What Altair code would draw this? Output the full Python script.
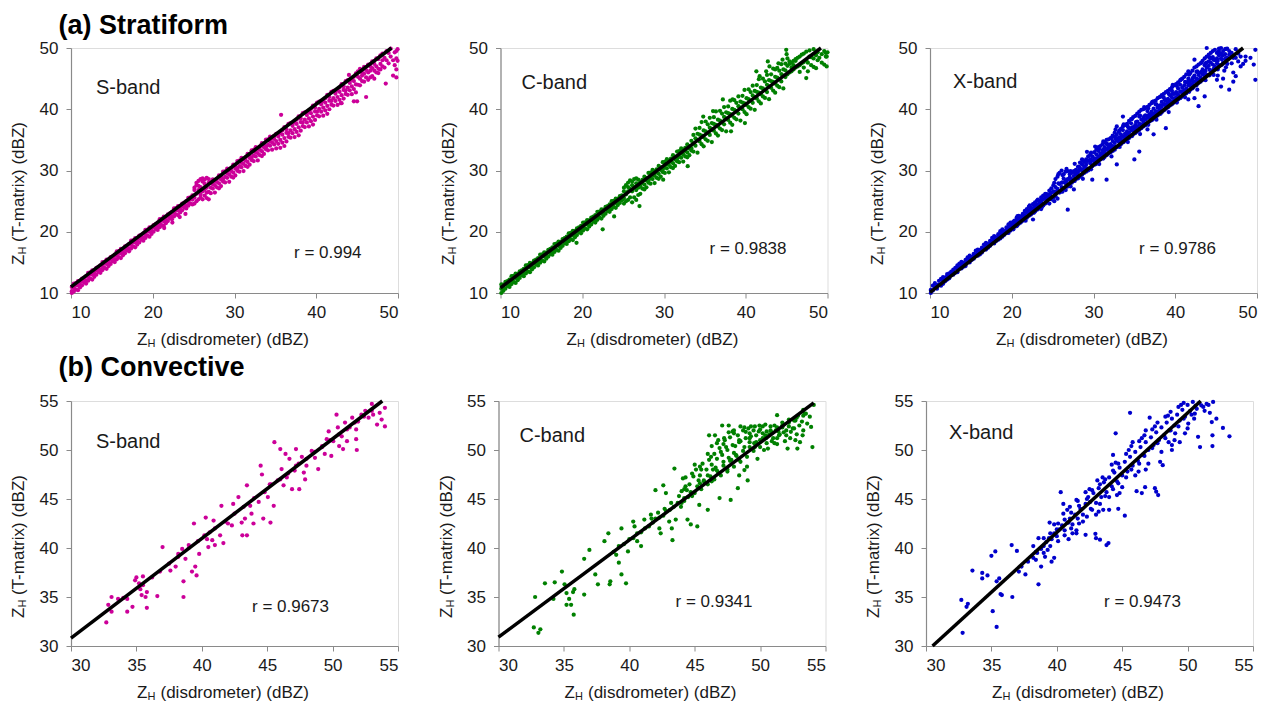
import altair as alt
import pandas as pd

FONT = "Liberation Sans"

# ---------------- data ----------------
# each entry: (disdrometer Z_H, [T-matrix Z_H values observed at that Z_H])
S_STRAT = [
(10.1,[11.0,10.3,10.0]),(10.35,[10.85,11.55,10.25]),(10.6,[10.6,11.3,11.6]),(10.85,[10.45,11.25,11.95]),(11.1,[11.4,11.9,10.9]),
(11.35,[12.35,11.25,11.95]),(11.6,[11.7,12.1,12.5]),(11.85,[12.75,12.05,11.55]),(12.1,[12.6,13.3,12.0]),(12.35,[12.35,13.05,13.35]),
(12.6,[12.2,13.0,13.7]),(12.85,[13.15,13.65,12.65]),(13.1,[14.1,13.0,13.7]),(13.35,[13.45,13.85,14.25]),(13.6,[14.5,13.8,13.3]),
(13.85,[14.35,15.05,13.75]),(14.1,[14.1,14.8,15.1]),(14.35,[13.95,14.75,15.45]),(14.6,[14.9,15.4,14.4]),(14.85,[15.85,14.75,15.45]),
(15.1,[15.2,15.6,16.0]),(15.35,[16.25,15.55,15.05]),(15.6,[16.1,16.8,15.5]),(15.85,[15.85,16.55,16.85]),(16.1,[15.7,16.5,17.2]),
(16.35,[16.65,17.15,16.15]),(16.6,[17.6,16.5,17.2]),(16.85,[16.95,17.35,17.75]),(17.1,[18.0,17.3,16.8]),(17.35,[17.85,18.55,17.25]),
(17.6,[17.6,18.3,18.6]),(17.85,[17.45,18.25,18.95]),(18.1,[18.4,18.9,17.9]),(18.35,[19.35,18.25,18.95]),(18.6,[18.7,19.1,19.5]),
(18.85,[19.75,19.05,18.55]),(19.1,[19.6,20.3,19.0]),(19.35,[19.35,20.05,20.35]),(19.6,[19.2,20.0,20.7]),(19.85,[20.15,20.65,19.65]),
(20.1,[21.1,20.0,20.7]),(20.35,[20.45,20.85,21.25]),(20.6,[21.5,20.8,20.3]),(20.85,[21.35,22.05,20.75]),(21.1,[21.1,21.8,22.1]),
(21.35,[20.95,21.75,22.45]),(21.4,[20.6]),(21.6,[21.9,22.4,21.4]),(21.85,[22.85,21.75,22.45]),(22.1,[22.2,22.6,23.0]),
(22.35,[23.25,22.55,22.05]),(22.4,[21.5]),(22.6,[23.1,23.8,22.5]),(22.85,[22.85,23.55,23.85]),(23.1,[22.7,23.5,24.2]),
(23.3,[22.4]),(23.35,[23.65,24.15,23.15]),(23.6,[24.6,23.5,24.2]),(23.85,[23.95,24.35,24.75]),(24.0,[22.9]),(24.1,[25.0,24.3,23.8]),
(24.35,[24.85,25.55,24.25]),(24.6,[24.6,25.3,25.6]),(24.85,[24.45,25.25,25.95]),
(25.1,[26.8,25.6,24.6,27.2]),(25.35,[27.6,26.2,25.0,28.0]),(25.6,[28.3,26.8,25.3,27.5]),(25.85,[28.6,27.3,25.6,26.1]),
(26.1,[28.2,26.6,28.7,25.3]),(26.35,[27.8,25.9,28.5,26.9]),(26.6,[28.8,27.2,25.5,26.4]),(26.85,[28.0,26.5,28.6,25.3]),
(27.1,[28.1,27.2,26.3]),(27.35,[27.75,27.05,28.55]),(27.6,[26.4,28.3,27.6]),(27.85,[28.65,27.25,28.15]),(28.1,[27.9,29.2,27.1]),
(28.35,[28.95,27.45,28.55]),(28.6,[29.8,28.6,28.2]),(28.85,[29.85,28.95,28.05]),(29.1,[29.5,28.8,30.3]),(29.35,[28.15,30.05,29.35]),
(29.6,[30.4,29.0,29.9]),(29.85,[29.65,30.95,28.85]),(30.1,[30.7,29.2,30.3]),(30.35,[31.55,30.35,29.95]),(30.6,[31.6,30.7,29.8]),
(30.85,[31.25,30.55,32.05]),(31.1,[29.9,31.8,31.1]),(31.35,[32.15,30.75,31.65]),(31.6,[31.4,32.7,30.6]),(31.85,[32.45,30.95,32.05]),
(32.1,[33.3,32.1,31.7]),(32.35,[33.35,32.45,31.55]),(32.6,[33.0,32.3,33.8]),(32.85,[31.65,33.55,32.85]),(33.1,[33.9,32.5,33.4]),
(33.35,[33.15,34.45,32.35]),(33.6,[34.2,32.7,33.8]),(33.85,[35.05,33.85,33.45]),(34.1,[35.1,34.2,33.3]),(34.35,[34.75,34.05,35.55]),
(34.6,[33.4,35.3,34.6]),(34.85,[35.65,34.25,35.15]),
(35.1,[36.0,34.8,33.6]),(35.35,[35.55,34.35,35.95]),(35.6,[33.7,36.1,35.0]),(35.7,[39.1]),(35.85,[36.55,34.55,35.85]),
(36.1,[35.3,37.1,34.0]),(36.35,[36.75,34.75,36.15]),(36.6,[37.6,36.1,35.5]),(36.85,[37.75,36.55,35.35]),(37.1,[37.3,36.1,37.7]),
(37.35,[35.45,37.85,36.75]),(37.6,[38.3,36.3,37.6]),(37.85,[37.05,38.85,35.75]),(38.1,[38.5,36.5,37.9]),(38.35,[39.35,37.85,37.25]),
(38.6,[39.5,38.3,37.1]),(38.85,[39.05,37.85,39.45]),(39.1,[37.2,39.6,38.5]),(39.35,[40.05,38.05,39.35]),(39.6,[38.8,40.6,37.5]),
(39.85,[40.25,38.25,39.65]),(40.1,[41.1,39.6,39.0]),(40.35,[41.25,40.05,38.85]),(40.6,[40.8,39.6,41.2]),(40.85,[38.95,41.35,40.25]),
(41.1,[41.8,39.8,41.1]),(41.35,[40.55,42.35,39.25]),(41.6,[42.0,40.0,41.4]),(41.85,[42.85,41.35,40.75]),(42.1,[43.0,41.8,40.6]),
(42.35,[42.55,41.35,42.95]),(42.6,[40.7,43.1,42.0]),(42.85,[43.55,41.55,42.85]),(43.0,[41.0]),(43.1,[42.3,44.1,41.0]),
(43.35,[43.75,41.75,43.15]),(43.6,[44.6,43.1,42.5]),(43.85,[44.75,43.55,42.35]),(44.0,[45.6]),(44.1,[44.3,43.1,44.7]),
(44.35,[42.45,44.85,43.75]),(44.6,[45.3,43.3,44.6,41.3]),(44.85,[44.05,45.85,42.75]),(45.0,[41.3]),
(45.1,[46.2,45.3,44.0]),(45.35,[46.6,45.0,43.9]),(45.6,[46.0,44.6,45.5]),(45.85,[46.9,45.8,44.5]),(46.1,[46.4,42.0,45.2]),
(46.35,[47.3,46.0,44.8]),(46.6,[47.0,45.2,46.3]),(46.85,[47.8,46.7,45.4]),(47.1,[47.4,46.3,45.0]),(47.35,[48.3,47.0,46.0]),
(47.6,[48.2,46.6,45.9]),(47.85,[48.8,47.4,46.5]),(48.1,[49.1,48.0,47.0]),(48.35,[48.4,46.8]),(48.5,[44.2]),(48.6,[49.5,48.0]),
(48.85,[49.2,47.5]),(49.1,[49.9,48.6]),(49.4,[48.0,45.5]),(49.6,[49.3,47.2]),(49.8,[49.5,46.5,45.2,48.3]),(49.95,[49.8,47.9]),
]

C_STRAT = [
(10.1,[10.0,10.7,11.4]),(10.35,[10.85,11.35,10.35]),(10.6,[11.8,10.7,11.4]),(10.85,[11.15,11.55,11.95]),(11.1,[12.2,11.5,11.0]),
(11.35,[12.05,12.75,11.45]),(11.6,[11.8,12.5,12.8]),(11.85,[11.65,12.45,13.15]),(12.1,[12.6,13.1,12.1]),(12.35,[13.55,12.45,13.15]),
(12.6,[12.9,13.3,13.7]),(12.85,[13.95,13.25,12.75]),(13.1,[13.8,14.5,13.2]),(13.35,[13.55,14.25,14.55]),(13.6,[13.4,14.2,14.9]),
(13.85,[14.35,14.85,13.85]),(14.1,[15.3,14.2,14.9]),(14.35,[14.65,15.05,15.45]),(14.6,[15.7,15.0,14.5]),(14.85,[15.55,16.25,14.95]),
(15.1,[15.3,16.0,16.3]),(15.35,[15.15,15.95,16.65]),(15.6,[16.1,16.6,15.6]),(15.85,[17.05,15.95,16.65]),(16.1,[16.4,16.8,17.2]),
(16.35,[17.45,16.75,16.25]),(16.6,[17.3,18.0,16.7]),(16.85,[17.05,17.75,18.05]),(17.1,[16.9,17.7,18.4]),(17.35,[17.85,18.35,17.35]),
(17.6,[18.8,17.7,18.4]),(17.85,[18.15,18.55,18.95]),(18.1,[19.2,18.5,18.0]),(18.35,[19.05,19.75,18.45]),(18.6,[18.8,19.5,19.8]),
(18.85,[18.65,19.45,20.15]),(19.1,[19.6,20.1,19.1]),(19.3,[18.2]),(19.35,[20.55,19.45,20.15]),(19.6,[19.9,20.3,20.7]),
(19.85,[20.95,20.25,19.75]),(20.1,[20.8,21.5,20.2]),(20.35,[20.55,21.25,21.55]),(20.6,[20.4,21.2,21.9]),(20.85,[21.35,21.85,20.85]),
(21.1,[22.3,21.2,21.9]),(21.35,[21.65,22.05,22.45]),(21.6,[22.7,22.0,21.5]),(21.85,[22.55,23.25,21.95]),(22.1,[22.3,23.0,23.3]),
(22.35,[22.15,22.95,23.65]),(22.5,[20.4]),(22.6,[23.1,23.6,22.6]),(22.85,[24.05,22.95,23.65]),(23.1,[23.4,23.8,24.2]),
(23.35,[24.45,23.75,23.25]),(23.6,[24.3,25.0,23.7]),(23.85,[24.05,24.75,25.05]),(23.9,[22.5]),(24.1,[23.9,24.7,25.4]),
(24.35,[24.85,25.35,24.35]),(24.6,[25.8,24.7,25.4]),(24.85,[25.15,25.55,25.95]),
(25.1,[26.6,25.5,27.2,24.6]),(25.35,[27.6,26.1,25.0]),(25.6,[28.0,26.6,25.2,27.3]),(25.85,[28.4,27.0,25.6]),
(26.1,[28.2,26.6,27.6,24.8]),(26.35,[28.6,27.3,25.6]),(26.6,[27.9,25.2,28.7,26.8]),(26.85,[28.5,27.2,26.0]),(27.0,[24.2]),
(27.1,[26.2,28.1,27.4]),(27.35,[28.45,27.05,27.95]),(27.6,[27.7,29.0,26.9]),(27.85,[28.75,27.25,28.35]),(28.1,[29.6,28.4,28.0]),
(28.35,[29.65,28.75,27.85]),(28.6,[29.3,28.6,30.1]),(28.85,[27.95,29.85,29.15]),(29.1,[30.2,28.8,29.7]),(29.35,[29.45,30.75,28.65]),
(29.6,[30.5,29.0,30.1]),(29.85,[31.35,30.15,29.75]),(29.9,[28.5]),(30.1,[31.4,30.5,29.6]),(30.35,[31.05,30.35,31.85]),
(30.6,[29.7,31.6,30.9]),(30.85,[31.95,30.55,31.45]),(31.1,[31.2,32.5,30.4]),(31.35,[32.25,30.75,31.85]),(31.6,[33.1,31.9,31.5]),
(31.85,[33.15,32.25,31.35]),(32.1,[32.8,32.1,33.6]),(32.35,[31.45,33.35,32.65]),(32.6,[33.7,32.3,33.2]),(32.85,[32.95,34.25,32.15]),
(32.9,[30.7]),(33.1,[34.0,32.5,33.6]),(33.35,[34.85,33.65,33.25]),
(33.6,[35.8,34.4,33.1]),(33.85,[35.25,36.85,34.05]),(34.1,[32.9,36.0,35.0]),(34.35,[36.95,34.75,35.85]),(34.6,[34.3,35.7,37.9]),
(34.8,[38.8]),(34.85,[36.55,33.95,35.45]),(35.1,[38.0,36.4,35.1]),(35.35,[37.55,36.15,34.85]),(35.6,[37.0,38.6,35.8]),
(35.85,[34.65,37.75,36.75]),(36.0,[39.7]),(36.1,[38.7,36.5,37.6]),(36.35,[36.05,37.45,39.65]),(36.6,[38.3,35.7,37.2]),
(36.85,[39.75,38.15,36.85]),(37.1,[39.3,37.9,36.6]),(37.2,[41.6]),(37.35,[38.75,40.35,37.55]),(37.6,[36.4,39.5,38.5]),
(37.85,[40.45,38.25,39.35]),(38.1,[37.8,39.2,41.4]),(38.2,[36.4]),(38.35,[40.05,37.45,38.95]),(38.4,[41.6]),(38.6,[41.5,39.9,38.6]),
(38.85,[41.05,39.65,38.35]),(39.1,[40.5,42.1,39.3]),(39.35,[38.15,41.25,40.25]),(39.6,[42.2,40.0,41.1]),(39.85,[39.55,40.95,43.15]),
(39.9,[37.75]),(40.1,[41.8,39.2,40.7]),(40.35,[43.25,41.65,40.35]),(40.6,[42.8,41.4,40.1]),(40.85,[42.25,43.85,41.05]),
(41.1,[39.9,43.0,42.0]),(41.3,[46.2]),(41.35,[43.95,41.75,42.85]),(41.6,[41.3,42.7,44.9]),(41.7,[45.4]),(41.85,[43.55,40.95,42.45]),
(42.1,[45.0,43.4,42.1]),(42.35,[44.55,43.15,41.85]),(42.5,[46.2]),(42.6,[44.0,45.6,42.8]),(42.7,[47.8]),(42.85,[41.65,44.75,43.75]),
(42.9,[47.0]),(43.1,[45.7,43.5,44.6]),(43.35,[43.05,44.45,46.65]),(43.6,[45.3,42.7,44.2,46.5]),(43.85,[46.75,45.15,43.85]),
(44.0,[47.5]),(44.1,[46.3,44.9,43.6]),(44.35,[45.75,47.35,44.55]),(44.5,[48.1]),(44.6,[43.4,46.5,45.5]),(44.85,[47.45,45.25,46.35]),
(44.95,[49.7]),(45.0,[49.0]),
(45.1,[47.1,45.7,48.3]),(45.35,[47.4,46.0,47.8]),(45.6,[47.6,46.2,46.8]),(45.85,[47.9,46.5,47.2]),(46.1,[48.2,46.8,47.9]),
(46.35,[48.4,47.0]),(46.6,[48.6,47.2,46.1]),(46.85,[48.9,47.5]),(47.1,[49.1,47.7,46.8]),(47.4,[45.1,49.4,48.0]),(47.6,[47.6,46.2]),
(47.8,[48.6,49.6]),(48.0,[47.2,48.5]),(48.3,[48.3,46.9,49.8]),(48.6,[46.7,48.8]),(48.8,[48.0,49.3]),(49.0,[48.4]),
(49.3,[49.0,47.6]),(49.6,[47.3,49.5]),(49.8,[49.2,48.6]),(49.9,[47.0,48.6]),(50.0,[49.3]),
]

X_STRAT = [
(10.1,[10.5,10.0]),(10.35,[11.2,10.4]),(10.6,[10.9,11.6]),(10.85,[11.3,10.7]),(11.1,[12.0,11.4]),(11.35,[11.2,12.3]),
(11.6,[12.0,12.6,11.5]),(11.85,[12.5,11.9]),(12.1,[12.8,12.2,13.1]),(12.35,[12.4,13.2]),(12.6,[13.5,12.9]),(12.85,[13.0,13.8,13.4]),
(13.1,[14.1,13.3]),(13.35,[13.9,14.5,13.4]),(13.6,[14.2,14.8]),(13.85,[14.0,14.6,15.1]),(14.1,[14.9,14.3]),(14.35,[15.4,14.7,14.4]),
(14.6,[15.2,15.8]),(14.85,[15.0,15.6,16.1]),(15.1,[15.9,15.4]),(15.35,[16.4,15.6,16.0]),(15.6,[16.3,16.9]),(15.85,[16.1,16.7,17.1]),
(16.1,[17.0,16.3]),(16.35,[17.4,16.6,17.0]),(16.6,[17.3,17.9]),(16.85,[17.1,17.7,18.2]),(17.1,[18.0,17.4]),(17.35,[18.5,17.7,18.1]),
(17.6,[18.4,19.0]),(17.85,[18.1,18.8,19.3]),(18.1,[19.1,18.5]),(18.35,[19.6,18.7,19.2]),(18.6,[19.5,20.1,18.9]),(18.85,[19.2,19.9,20.4]),
(19.1,[20.1,19.5]),(19.35,[20.7,19.8,20.3]),(19.6,[20.6,21.2,19.8]),(19.85,[20.2,21.0,21.5]),(20.1,[21.2,20.5]),(20.35,[21.8,20.8,21.4]),
(20.6,[21.6,22.3,20.9]),(20.85,[21.3,22.1,22.6]),(21.1,[22.3,21.5]),(21.35,[22.9,21.8,22.4]),(21.6,[22.7,23.4,21.9]),(21.85,[22.3,23.2,23.7]),
(22.1,[23.4,22.6,24.1]),(22.35,[23.9,22.8,23.4]),(22.6,[23.8,24.5,22.0]),(22.85,[23.3,24.2,24.8]),(23.1,[24.4,23.6,25.1]),
(23.35,[25.0,23.8,24.5]),(23.6,[24.8,25.6,23.7]),(23.85,[24.3,25.3,25.9]),(24.1,[25.5,24.6,26.2]),(24.35,[26.1,24.8,25.6]),
(24.6,[25.9,26.7,24.6]),(24.85,[25.3,26.4,27.1]),(25.1,[26.6,25.6,27.6]),(25.35,[27.3,25.8,28.6,26.5]),(25.6,[27.0,29.0,25.4,26.7]),
(25.85,[26.4,27.8,29.6]),(26.1,[28.0,26.6,30.0,27.3]),(26.35,[28.7,27.0,29.4]),(26.6,[27.9,29.8,26.8,28.4]),(26.85,[27.4,28.6,23.6,29.9]),
(27.1,[28.9,27.6,29.4]),(27.35,[29.6,28.0,28.6]),(27.6,[29.1,26.9,29.9,28.3]),(27.85,[28.6,30.1,29.4]),(28.1,[29.8,28.7,30.6,29.3]),
(28.35,[30.4,29.0,31.3]),(28.6,[30.0,31.0,29.3,31.8]),(28.85,[29.6,30.6,31.4]),(29.1,[31.0,29.8,31.8,30.4]),(29.35,[31.6,30.0,32.3]),
(29.6,[31.2,32.6,30.3,31.8]),(29.85,[28.5,30.7,31.6,32.3]),(30.1,[32.0,31.0,33.0,31.5]),(30.35,[32.6,31.1,31.9,33.4]),
(30.6,[32.3,33.2,31.4,33.8]),(30.85,[31.8,32.8,34.0,32.4]),(31.1,[33.3,32.0,34.3,32.7]),(31.35,[33.8,32.2,33.0,34.6]),
(31.6,[33.4,28.5,34.4,32.5,35.0]),(31.85,[32.8,33.9,35.1,33.3]),(32.1,[34.3,33.0,35.3,33.7]),(32.35,[34.8,33.2,34.0,35.7]),
(32.6,[34.5,35.5,33.4,36.2]),(32.85,[33.8,34.9,37.2,31.0,35.8]),(33.1,[35.3,34.0,36.3,34.7]),(33.35,[35.9,34.3,35.1,36.8]),
(33.6,[35.5,36.6,34.6,38.8,37.2]),(33.85,[34.9,36.0,37.4,35.4]),(34.1,[36.4,35.1,37.6,35.8]),(34.35,[36.9,35.3,36.2,38.1]),
(34.6,[36.6,37.7,35.6,38.4]),(34.85,[35.9,37.1,38.7,36.5]),(35.0,[31.8]),(35.1,[37.4,36.1,38.9,36.9]),(35.35,[38.0,36.4,37.2,39.3]),
(35.6,[37.6,38.8,33.1,36.6,39.6]),(35.85,[36.9,38.3,39.9,37.5]),(36.1,[38.5,37.2,40.0,37.9]),(36.35,[39.0,37.4,38.3,40.2]),
(36.6,[38.6,39.7,36.7,37.7,40.4]),(36.85,[38.0,39.2,40.7,38.6]),(37.1,[39.6,38.2,41.0,38.9]),(37.35,[40.1,38.5,35.9,39.3,41.3]),
(37.6,[39.7,40.8,38.7,41.4]),(37.85,[39.0,40.3,41.8,39.6]),(38.1,[40.6,39.3,42.0,40.0]),(38.35,[41.2,39.5,40.4,42.3]),
(38.6,[40.8,41.9,39.8,42.5]),(38.85,[40.1,41.4,36.9,42.8,40.6]),(39.1,[41.7,40.3,43.0,41.0]),(39.35,[42.3,40.6,41.4,43.3]),
(39.6,[41.9,43.0,40.8,43.6]),(39.85,[41.1,42.5,43.9,41.7]),(40.1,[42.8,41.3,44.1,42.0]),(40.35,[43.4,41.6,42.4,44.4]),
(40.6,[42.9,44.0,41.8,44.7]),(40.85,[42.2,43.5,45.0,42.8]),(41.1,[43.9,42.4,45.3,43.1]),(41.35,[44.4,42.6,43.4,45.7]),
(41.6,[43.9,45.0,41.6,46.2,44.5]),(41.85,[43.2,44.6,45.9,43.8]),(42.1,[45.0,43.4,46.3,44.1]),(42.35,[45.5,41.8,44.5,46.8,48.1]),
(42.6,[45.0,46.1,43.9,47.0]),(42.85,[44.3,45.6,40.5,47.3,44.8]),(43.1,[46.0,44.5,47.5,45.2]),(43.35,[46.5,44.8,45.7,47.9]),
(43.6,[46.1,47.2,42.1,48.3,45.5]),(43.85,[45.6,46.8,48.6,50.0,47.6]),(44.1,[47.1,45.6,48.9,47.8]),(44.35,[47.6,46.1,48.3,49.2]),
(44.6,[47.3,48.5,46.3,49.5]),(44.85,[46.6,48.0,49.7,47.0]),(45.1,[48.3,44.8,49.2,47.5]),(45.35,[48.8,47.2,49.9,49.5]),
(45.6,[48.3,43.7,50.0,49.1]),(45.85,[47.6,49.5,45.0,48.8]),(46.1,[49.0,49.8,48.2]),(46.35,[48.4,49.9,47.4]),(46.6,[43.2,48.9,49.5]),
(46.9,[47.5,49.2]),(47.1,[44.5,48.4,46.0]),(47.4,[45.4,48.4,49.8]),(47.7,[47.8,49.1]),(48.0,[47.0,48.6]),(48.3,[47.4]),
(48.6,[48.6,47.9]),(49.2,[48.4]),(49.6,[47.3]),(49.8,[44.8,49.7]),(46.0,[46.3]),(45.2,[45.5]),
(20.2,[20.9,21.65,20.4]),(20.7,[21.85,21.1,22.55]),(21.2,[21.75,22.2,22.55]),(21.7,[23.3,21.8,22.55]),(22.2,[23.55,22.9,24.3]),
(22.7,[23.1,23.85,24.45]),(23.2,[24.25,25.25,23.8]),(23.7,[24.55,25.3,24.05]),(24.2,[25.45,24.75,26.15]),(24.7,[25.4,25.85,26.2]),
(25.2,[28.0,25.0,26.5]),(25.7,[27.9,26.6,29.4]),(26.2,[26.55,28.05,29.25]),(26.7,[28.25,30.25,27.35]),(27.2,[28.4,29.9,27.4]),
(27.7,[29.7,28.3,31.1]),(28.2,[29.0,29.95,30.65]),(28.7,[31.65,28.65,30.15]),(29.2,[31.55,30.25,33.05]),(29.7,[30.2,31.7,32.9]),
(30.2,[31.9,33.9,31.0]),(30.7,[32.05,33.55,31.05]),(31.2,[33.35,31.95,34.75]),(31.7,[32.65,33.55,34.25]),(32.2,[35.3,32.3,33.8]),
(32.7,[35.2,33.9,36.7]),(33.2,[33.85,35.35,36.55]),(33.7,[35.55,37.55,34.65]),(34.2,[35.65,37.15,34.65]),(34.7,[37.0,35.6,38.4]),
(35.2,[36.3,37.2,37.9]),(35.7,[38.95,35.95,37.45]),(36.2,[38.85,37.55,40.35]),(36.7,[37.45,38.95,40.15]),(37.2,[39.2,41.2,38.3]),
(37.7,[39.3,40.8,38.3]),(38.2,[40.65,39.25,42.05]),(38.7,[39.95,40.85,41.55]),(39.2,[42.55,39.55,41.05]),(39.7,[42.5,41.2,44.0]),
(40.2,[41.1,42.6,43.8]),(40.7,[42.85,44.85,41.95]),(41.2,[42.95,44.45,41.95]),(41.7,[44.25,42.85,45.65]),(42.2,[43.6,44.5,45.2]),
(42.7,[46.2,43.2,44.7]),(43.2,[46.1,44.8,47.6]),(43.7,[44.75,46.25,47.45]),(44.2,[46.45,48.45,45.55]),(44.7,[46.6,48.1,45.6]),
(45.2,[47.9,46.5,49.3]),(45.7,[47.25,48.15,48.85]),(46.2,[49.85,46.85,48.35]),
]

S_CONV = [
(32.7,[32.4]),(32.85,[34.2]),(33.1,[33.5,35.0]),(33.6,[34.8]),(34.0,[34.9]),(34.3,[33.5,34.8]),(34.7,[34.0]),(34.9,[36.7]),
(35.0,[37.0]),(35.2,[36.4]),(35.3,[35.8]),(35.4,[35.2]),(35.5,[37.1,36.2]),(35.7,[35.0]),(35.8,[35.5,33.9]),(36.2,[37.0]),
(36.6,[35.1]),(36.8,[37.6]),(37.0,[40.1]),(37.5,[38.4]),(37.6,[37.7]),(38.0,[38.1]),(38.2,[39.4,39.1]),(38.5,[39.9]),
(38.6,[36.6,35.0]),(38.75,[38.9]),(39.0,[40.3,40.0]),(39.25,[37.6]),(39.4,[42.5]),(39.5,[38.1]),(39.6,[37.2]),(39.7,[40.7]),
(39.8,[39.4]),(40.2,[41.3]),(40.3,[43.1]),(40.4,[40.9]),(40.5,[40.1]),(40.6,[41.6]),(40.8,[40.8]),(40.9,[42.8]),(41.0,[40.3,42.0]),
(41.4,[41.3]),(41.5,[44.3]),(41.65,[40.5]),(41.8,[42.7]),(42.0,[42.5]),(42.3,[42.3]),(42.4,[44.5]),(42.5,[43.5]),(42.8,[45.2]),
(43.05,[42.6]),(43.1,[41.3]),(43.2,[44.2]),(43.3,[43.0]),(43.45,[41.3,46.4]),(43.7,[44.3]),(43.8,[43.5]),(43.95,[42.5]),
(44.0,[45.1]),(44.35,[44.7]),(44.5,[48.4]),(44.6,[47.5]),(44.7,[43.0]),(44.8,[45.7]),(45.05,[45.2]),(45.2,[46.5]),(45.25,[42.6]),
(45.3,[46.5]),(45.5,[44.3]),(45.55,[50.8]),(45.8,[46.9]),(46.0,[50.1,47.0]),(46.1,[48.05]),(46.25,[46.4]),(46.4,[49.6]),
(46.5,[47.2]),(46.6,[47.6]),(46.7,[49.1]),(46.9,[46.0]),(47.1,[47.9]),(47.2,[50.1,48.4]),(47.4,[48.6]),(47.45,[46.0]),
(47.65,[49.3]),(47.8,[47.7]),(47.9,[47.0]),(48.0,[48.4,49.1]),(48.4,[49.9]),(48.6,[49.8]),(48.65,[49.2]),(48.9,[48.05]),
(49.2,[50.4,50.3]),(49.4,[49.6]),(49.55,[51.1]),(49.7,[51.9]),(49.8,[51.0]),(49.9,[49.4]),(50.05,[50.9]),(50.3,[53.6]),
(50.4,[52.3]),(50.5,[50.4,51.6]),(50.7,[51.4]),(50.8,[50.1]),(50.95,[52.8]),(51.1,[50.9,52.1]),(51.3,[52.3]),(51.5,[53.3]),
(51.7,[52.8]),(51.8,[52.1,51.1]),(51.85,[50.0]),(51.95,[52.9]),(52.2,[53.6]),(52.4,[53.4]),(52.5,[54.0]),(52.75,[53.3]),
(53.0,[54.7,54.0]),(53.1,[53.6]),(53.4,[52.6]),(53.6,[53.8]),(53.75,[53.1]),(54.0,[54.3,52.4]),
]

C_CONV = [
(32.7,[31.9]),(32.8,[35.0]),(33.05,[31.35]),(33.2,[31.7]),(33.55,[36.4]),(34.2,[34.8]),(34.3,[36.5]),(34.85,[37.6]),(35.05,[36.3]),
(35.2,[35.4,34.2]),(35.4,[34.8]),(35.55,[34.2]),(35.7,[35.5]),(35.75,[33.2]),(35.8,[35.8]),(36.55,[38.9,35.25]),(36.95,[39.8]),
(37.4,[37.3]),(37.6,[36.3]),(38.1,[40.7]),(38.4,[41.5]),(38.5,[36.3]),(38.55,[36.6]),(38.8,[39.6]),(39.0,[39.3]),(39.2,[38.5,40.2]),
(39.4,[42.0,37.3]),(39.6,[40.4]),(39.75,[36.4]),(39.9,[39.65]),(40.0,[40.9]),(40.3,[42.7,41.0]),(40.4,[42.2]),(40.6,[40.7,41.5]),
(40.9,[40.2,41.6]),(41.15,[42.9]),(41.2,[42.0]),(41.5,[42.2]),(41.65,[43.4]),(41.7,[43.0]),(41.8,[42.6]),(42.0,[45.9,43.0]),
(42.2,[43.6]),(42.3,[42.0,43.1]),(42.4,[41.5]),(42.6,[46.4,43.3]),(42.7,[44.0]),(42.8,[45.6,43.8]),(43.05,[42.7]),(43.1,[43.9]),
(43.2,[44.6]),(43.25,[42.0]),(43.3,[40.8]),(43.4,[44.2]),(43.45,[48.1]),(43.55,[42.9]),(43.7,[44.6]),(43.8,[45.3]),(43.95,[44.2]),
(44.0,[44.6,45.8]),(44.1,[47.1]),(44.2,[45.1,44.8,46.0]),(44.3,[46.3,47.2]),(44.4,[45.9]),(44.45,[42.9]),(44.5,[45.2]),
(44.6,[46.5]),(44.7,[42.4,45.7]),(44.8,[45.3,47.6]),(44.9,[47.3]),(45.0,[48.5,45.6]),(45.1,[48.0]),(45.2,[42.2,46.3]),
(45.3,[46.9]),(45.35,[44.4]),(45.4,[47.4,46.6,48.3]),(45.5,[48.0,46.0]),(45.6,[48.6]),(45.7,[46.8,46.9]),(45.9,[48.0]),
(46.0,[43.9,46.5,47.4,49.6]),(46.1,[51.5,49.0]),(46.2,[47.3]),(46.25,[49.3]),(46.3,[48.5,46.8,50.4]),(46.4,[48.0]),
(46.5,[49.6,47.0]),(46.55,[51.5]),(46.6,[48.2]),(46.7,[50.7,47.9,49.1]),(46.8,[47.7,51.0]),(46.9,[45.1,50.2]),(47.0,[49.8,47.4]),
(47.1,[52.5,49.5]),(47.2,[48.4,48.8,50.6]),(47.25,[51.2]),(47.3,[51.0]),(47.4,[50.3]),(47.5,[48.0,47.8,50.0]),(47.6,[52.5,49.2,51.8]),
(47.7,[48.9,51.3]),(47.75,[44.9]),(47.8,[49.0]),(47.9,[50.5,51.9]),(48.0,[51.7,48.3,49.7,52.0]),(48.1,[50.4]),(48.15,[49.5]),
(48.2,[49.4]),(48.3,[46.1,51.5]),(48.4,[50.8,47.4,49.0,51.0]),(48.5,[52.4,48.8,50.9]),(48.7,[49.9,52.0]),(48.8,[47.95,50.3,52.3]),
(48.9,[51.85,51.2]),(49.0,[49.3,48.3]),(49.05,[46.9]),(49.1,[52.2]),(49.2,[51.2,50.3,50.8,51.7]),(49.3,[52.4,51.4]),
(49.5,[49.9,52.0]),(49.55,[50.7]),(49.6,[50.3,52.4]),(49.7,[50.8,51.5]),(49.8,[49.1]),(49.9,[51.9]),(49.95,[52.5]),
(50.0,[50.3,51.0,52.1]),(50.2,[51.7,51.2,52.4]),(50.3,[50.0]),(50.4,[51.5,52.6]),(50.45,[51.2]),(50.5,[50.7,51.9]),(50.6,[50.15]),
(50.7,[51.6]),(50.8,[52.4,52.0]),(50.9,[51.8,50.9]),(51.0,[51.2]),(51.1,[50.7,52.5]),(51.2,[52.0]),(51.3,[53.55,50.6,52.3,51.2]),
(51.4,[51.9]),(51.45,[51.5]),(51.5,[51.6]),(51.7,[52.5,52.3,52.8]),(51.8,[52.6,51.8]),(51.9,[50.9]),(52.0,[52.0,51.5]),
(52.1,[50.15]),(52.2,[52.8,53.1,52.4]),(52.3,[51.2]),(52.35,[51.85]),(52.5,[52.2]),(52.6,[53.0,52.2]),(52.7,[53.0,51.0]),
(52.8,[51.6,53.3]),(52.85,[50.15]),(52.9,[53.5]),(53.0,[52.5]),(53.05,[50.8]),(53.2,[52.9]),(53.25,[51.5]),(53.3,[53.5,52.0,54.1]),
(53.4,[53.7]),(53.5,[53.7]),(53.6,[52.7]),(53.8,[53.4]),(53.9,[52.35]),(54.0,[50.3]),(54.1,[54.6]),
]

X_CONV = [
(32.7,[34.7]),(32.8,[31.35]),(33.1,[34.0]),(33.2,[34.3]),(33.55,[37.7]),(34.3,[37.45,36.9]),(34.7,[37.2]),(35.0,[39.2]),
(35.1,[33.55]),(35.3,[39.65]),(35.4,[31.95,36.6]),(35.6,[36.9]),(35.7,[35.3]),(35.8,[35.2]),(36.55,[40.3]),(36.6,[35.0]),
(36.95,[39.7]),(37.1,[37.6]),(37.3,[38.1]),(37.6,[37.3]),(37.8,[38.6]),(38.2,[40.2,39.0]),(38.4,[39.6,38.8]),(38.5,[39.5]),
(38.6,[36.3,41.0]),(38.8,[38.1,39.9]),(39.0,[40.2,39.5,41.0]),(39.1,[39.1]),(39.2,[40.6]),(39.3,[39.8]),(39.4,[41.0]),
(39.45,[42.6]),(39.5,[40.2,41.5]),(39.6,[38.6,40.9]),(39.8,[39.0,41.5,42.4]),(40.0,[41.9,41.2]),(40.1,[40.7,42.5]),(40.2,[41.9]),
(40.3,[45.7]),(40.4,[42.3]),(40.5,[44.5,43.5]),(40.6,[41.8,42.9,41.3]),(40.8,[42.6,43.9]),(40.9,[42.6,40.9]),(41.0,[43.0,44.2]),
(41.1,[42.0,43.6]),(41.2,[42.4,41.5]),(41.4,[43.4]),(41.5,[41.5,44.9,41.8]),(41.6,[43.0,44.8]),(41.7,[42.5,44.3]),(41.8,[44.0]),
(42.0,[43.4,42.7]),(42.2,[41.35,44.5,45.7]),(42.3,[43.2,45.0]),(42.4,[45.2]),(42.5,[46.0]),(42.55,[44.7]),(42.6,[44.0]),
(42.7,[45.9,43.9]),(42.8,[45.6]),(42.95,[41.45]),(43.0,[41.0,44.6,43.4]),(43.1,[46.9]),(43.2,[46.1,43.7]),(43.3,[40.85,44.5,46.5]),
(43.4,[45.2]),(43.5,[47.2]),(43.55,[43.9]),(43.6,[46.7]),(43.7,[47.0,45.3]),(43.8,[40.3,45.7]),(43.95,[40.5]),(44.0,[43.9,47.2,45.2]),
(44.2,[46.3,48.5]),(44.3,[49.5,46.0,47.9]),(44.4,[47.7]),(44.5,[51.7,48.7]),(44.6,[45.4,46.8]),(44.7,[44.0,48.6,46.6]),
(44.8,[48.2,45.6]),(45.0,[47.4,46.2]),(45.2,[43.3,48.8]),(45.3,[47.2,49.6]),(45.4,[47.8]),(45.5,[50.0]),(45.6,[53.8,49.3]),
(45.7,[48.0,50.4]),(45.8,[48.4,50.8]),(46.0,[49.8,47.4]),(46.1,[45.8]),(46.2,[48.9]),(46.25,[47.8]),(46.3,[48.6,50.9]),
(46.4,[50.3]),(46.5,[45.6,51.2]),(46.6,[49.5]),(46.7,[49.4,51.5]),(46.75,[46.2]),(46.8,[50.8,48.0,52.0]),(47.0,[50.0,48.6]),
(47.1,[53.3]),(47.2,[51.3]),(47.3,[50.2,52.1]),(47.4,[50.5]),(47.5,[46.1,52.4]),(47.6,[45.75,51.8]),(47.7,[50.7,52.8]),
(47.75,[45.4]),(47.8,[51.0]),(47.9,[48.8]),(48.0,[52.3,49.8]),(48.1,[48.45]),(48.2,[51.5]),(48.3,[51.2,53.4]),(48.4,[52.8]),
(48.5,[53.5]),(48.55,[50.8]),(48.6,[52.0]),(48.7,[52.0,53.9]),(48.8,[53.2,50.0,50.5]),(49.0,[52.5,51.0]),(49.05,[51.7]),
(49.2,[53.6]),(49.3,[52.4,54.4]),(49.4,[53.0,50.8]),(49.5,[54.6]),(49.6,[54.1]),(49.7,[53.2,54.8]),(49.8,[53.4,51.7]),
(50.0,[54.6,52.2]),(50.05,[52.7]),(50.2,[54.0]),(50.3,[53.6]),(50.4,[54.9]),(50.5,[53.2]),(50.55,[53.7]),(50.6,[54.5]),
(50.7,[54.2]),(50.8,[51.35]),(50.9,[54.8]),(50.95,[50.3]),(51.05,[54.55]),(51.2,[54.4]),(51.3,[54.0]),(51.45,[54.7]),
(51.6,[54.6]),(51.7,[53.8]),(51.85,[52.85]),(51.9,[51.5,50.4]),(51.95,[54.9]),(52.2,[53.2]),(52.7,[52.25]),(53.2,[51.4]),
]

# fitted lines: two end points each (clipped at the frame)
S_STRAT_LINE = [(10.0, 11.0), (49.2, 50.0)]
C_STRAT_LINE = [(10.0, 10.85), (49.2, 50.0)]
X_STRAT_LINE = [(10.0, 10.1), (48.3, 50.0)]
S_CONV_LINE = [(30.0, 30.8), (53.8, 55.0)]
C_CONV_LINE = [(30.0, 30.9), (54.1, 54.8)]
X_CONV_LINE = [(30.5, 30.0), (51.0, 55.0)]

BANDS = ["S-band", "C-band", "X-band"]
R_STRAT = ["r = 0.994", "r = 0.9838", "r = 0.9786"]
R_CONV = ["r = 0.9673", "r = 0.9341", "r = 0.9473"]
COLORS = ["#CC0099", "#008000", "#0000CC"]

STRAT_DOMAIN = [10, 50]
STRAT_XTICKS = [10, 20, 30, 40, 50]
STRAT_YTICKS = [10, 15, 20, 25, 30, 35, 40, 45, 50]
CONV_DOMAIN = [30, 55]
CONV_TICKS = [30, 35, 40, 45, 50, 55]

W, H = 327, 245
GRAY = "#8a8a8a"
TXT = "#1a1a1a"


def expand(groups):
    rows = [(x, y) for x, ys in groups for y in ys]
    return pd.DataFrame(rows, columns=["x", "y"])


def txt(s, x, y, size, **kw):
    return alt.Chart(pd.DataFrame({"t": [s]})).mark_text(
        fontSize=size, font=FONT, color=TXT, **kw
    ).encode(text="t:N", x=alt.value(x), y=alt.value(y))


def panel(groups, line, color, dom, xticks, yticks, band, rlabel, bandpos, rpos):
    df = expand(groups)
    ldf = pd.DataFrame(line, columns=["x", "y"])
    xs = alt.Scale(domain=dom, nice=False, zero=False)
    ys = alt.Scale(domain=dom, nice=False, zero=False)
    common = dict(title=None, grid=False, labelFont=FONT, labelFontSize=17, labelColor=TXT,
                  domainColor=GRAY, tickColor=GRAY, tickSize=5, domainWidth=1.2)
    xax = alt.Axis(values=xticks, labelPadding=6, **common)
    yax = alt.Axis(values=yticks, labelPadding=8, **common)
    points = alt.Chart(df).mark_circle(size=18, opacity=1, color=color).encode(
        x=alt.X("x:Q", scale=xs, axis=xax),
        y=alt.Y("y:Q", scale=ys, axis=yax),
    )
    fit = alt.Chart(ldf).mark_line(color="black", strokeWidth=3.5).encode(
        x=alt.X("x:Q", scale=xs), y=alt.Y("y:Q", scale=ys)
    )
    layers = [points, fit,
              txt(band, bandpos[0], bandpos[1], 20, align="left", baseline="middle"),
              txt(rlabel, rpos[0], rpos[1], 17, align="left", baseline="middle"),
              # x-axis title with subscript H
              txt("Z", 66, H + 47, 17, align="left", baseline="middle"),
              txt("H", 76.5, H + 51, 11, align="left", baseline="middle"),
              txt("(disdrometer) (dBZ)", 89.5, H + 47, 17, align="left", baseline="middle"),
              # y-axis title with subscript H (rotated)
              txt("Z", -52, 217, 17, align="left", baseline="middle", angle=270),
              txt("H", -48, 206.5, 11, align="left", baseline="middle", angle=270),
              txt("(T-matrix) (dBZ)", -52, 194, 17, align="left", baseline="middle", angle=270),
              ]
    return alt.layer(*layers).properties(width=W, height=H)


strat = [S_STRAT, C_STRAT, X_STRAT]
strat_lines = [S_STRAT_LINE, C_STRAT_LINE, X_STRAT_LINE]
conv = [S_CONV, C_CONV, X_CONV]
conv_lines = [S_CONV_LINE, C_CONV_LINE, X_CONV_LINE]

band_pos_top = [(25, 40), (21, 35), (23, 34)]
r_pos_top = [(223, 205), (209, 201), (209, 201)]
band_pos_bot = [(25, 41), (21, 35), (23, 32)]
r_pos_bot = [(181, 206), (177, 201), (178, 201)]

top = alt.hconcat(*[
    panel(strat[i], strat_lines[i], COLORS[i], STRAT_DOMAIN, STRAT_XTICKS, STRAT_YTICKS,
          BANDS[i], R_STRAT[i], band_pos_top[i], r_pos_top[i]) for i in range(3)
], spacing=37.5, title=alt.TitleParams("(a) Stratiform", anchor="start", fontSize=27, fontWeight="bold",
                                       font=FONT, color="black", dx=49, offset=-1))

bottom = alt.hconcat(*[
    panel(conv[i], conv_lines[i], COLORS[i], CONV_DOMAIN, CONV_TICKS, CONV_TICKS,
          BANDS[i], R_CONV[i], band_pos_bot[i], r_pos_bot[i]) for i in range(3)
], spacing=37.5, title=alt.TitleParams("(b) Convective", anchor="start", fontSize=27, fontWeight="bold",
                                       font=FONT, color="black", dx=49, offset=9.5))

chart = alt.vconcat(top, bottom, spacing=4).properties(
    padding={"left": 9, "top": 11, "right": 0, "bottom": 0}
).configure_view(
    stroke=GRAY, strokeWidth=1.2
).configure(background="white")

chart.save("out.html", embed_options={"renderer": "svg", "actions": False})
